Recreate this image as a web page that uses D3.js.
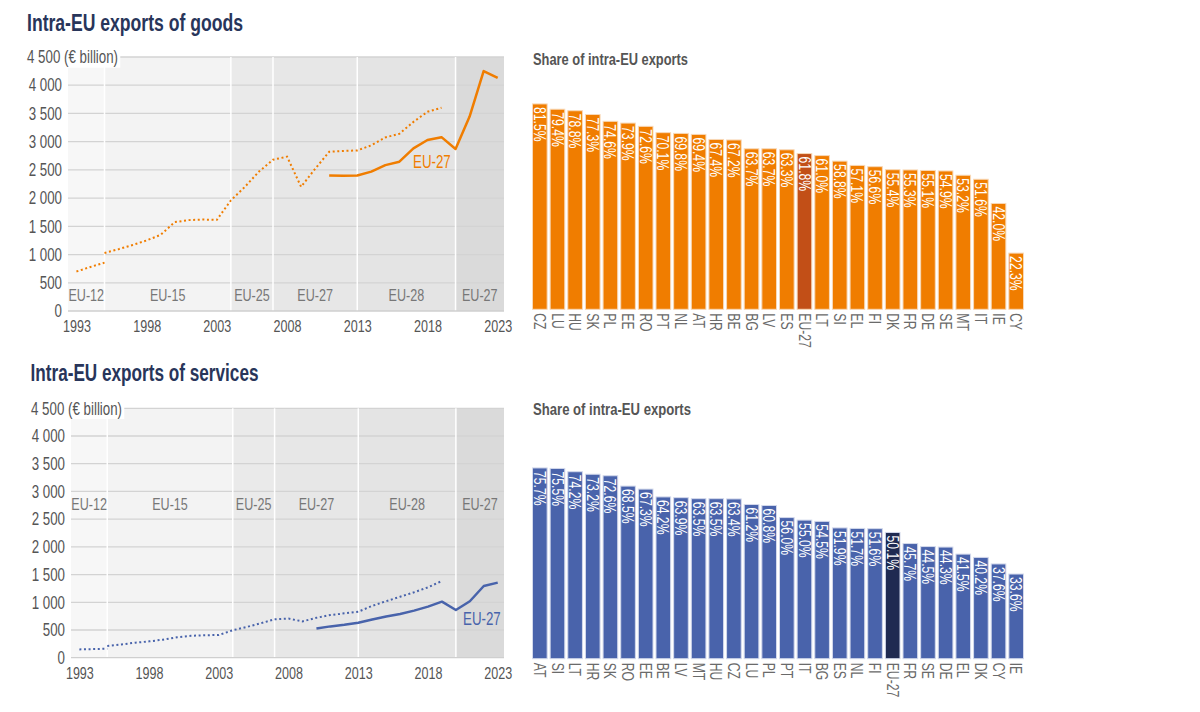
<!DOCTYPE html>
<html>
<head>
<meta charset="utf-8">
<title>Intra-EU exports</title>
<style>
  body { margin: 0; background: #fff; }
  text { font-family: "Liberation Sans", Arial, sans-serif; }
  .title { font-weight: bold; fill: #28355a; font-size: 23px; }
  .subtitle { font-weight: bold; fill: #555; font-size: 16px; }
  .tick text { fill: #555; font-size: 18px; }
  .era { fill: #777; font-size: 17px; }
</style>
</head>
<body>
<svg id="chart" width="1200" height="712"></svg>
<script src="https://cdn.jsdelivr.net/npm/d3@7/dist/d3.min.js"></script>
<script>
// membership periods (start year of each)
var eraNames = ["EU-12", "EU-15", "EU-25", "EU-27", "EU-28", "EU-27"];
var eraStarts = [1993, 1995, 2004, 2007, 2013, 2020];

var yearTicks = [1993, 1998, 2003, 2008, 2013, 2018, 2023];
var valueTicks = [0, 500, 1000, 1500, 2000, 2500, 3000, 3500, 4000, 4500];

// goods, EUR billion
var goodsEu12Years = [1993, 1994, 1995];
var goodsEu12 = [700, 780, 857];
var goodsHistYears = d3.range(1995, 2020);
var goodsHist = [1028, 1095, 1170, 1250, 1350, 1575, 1610, 1620, 1615, 1960, 2200, 2470, 2680, 2735, 2200,
                 2520, 2820, 2835, 2845, 2935, 3075, 3140, 3350, 3530, 3600];
var goodsEu27Years = d3.range(2011, 2024);
var goodsEu27 = [2400, 2395, 2400, 2470, 2585, 2645, 2880, 3030, 3080, 2870, 3445, 4250, 4130];

// services, EUR billion
var servEu12Years = [1993, 1994, 1995];
var servEu12 = [150, 155, 162];
var servHistYears = d3.range(1995, 2020);
var servHist = [211, 240, 270, 295, 325, 368, 395, 405, 410, 495, 555, 620, 693, 705, 655,
                720, 770, 800, 830, 935, 1020, 1100, 1180, 1270, 1385];
var servEu27Years = d3.range(2010, 2024);
var servEu27 = [525, 565, 595, 632, 690, 745, 790, 850, 921, 1011, 861, 1018, 1294, 1354];

// share of intra-EU exports, %
var goodsCountries = ["CZ", "LU", "HU", "SK", "PL", "EE", "RO", "PT", "NL", "AT", "HR", "BE", "BG", "LV", "ES",
                      "EU-27", "LT", "SI", "EL", "FI", "DK", "FR", "DE", "SE", "MT", "IT", "IE", "CY"];
var goodsShares = [81.5, 79.4, 78.8, 77.3, 74.6, 73.9, 72.6, 70.1, 69.8, 69.4, 67.4, 67.2, 63.7, 63.7, 63.3,
                   61.8, 61.0, 58.8, 57.1, 56.6, 55.4, 55.3, 55.1, 54.9, 53.2, 51.6, 42.0, 22.3];
var servCountries = ["AT", "SI", "LT", "HR", "SK", "RO", "EE", "BE", "LV", "MT", "HU", "CZ", "LU", "PL", "PT",
                     "IT", "BG", "ES", "NL", "FI", "EU-27", "FR", "SE", "DE", "EL", "DK", "CY", "IE"];
var servShares = [75.7, 75.5, 74.2, 73.2, 72.6, 68.5, 67.3, 64.2, 63.9, 63.5, 63.5, 63.4, 61.2, 60.8, 56.0,
                  55.0, 54.5, 51.9, 51.7, 51.6, 50.1, 45.7, 44.5, 44.3, 41.5, 40.2, 37.6, 33.6];

var bandFill = ["#f7f7f7", "#f3f3f3", "#eaeaea", "#e7e7e7", "#e4e4e4", "#dadada"];

// the original uses a narrow typeface: squeeze text horizontally
var K = 0.74;
var squeeze = "scale(" + K + ",1)";

var svg = d3.select("#chart");
var locale = d3.formatLocale({decimal: ".", thousands: " ", grouping: [3], currency: ["", ""]});
var fmt = locale.format(",");

function title(cls, x, y, len, txt) {
  svg.append("text").attr("class", cls).attr("x", x).attr("y", y)
    .attr("textLength", len).attr("lengthAdjust", "spacingAndGlyphs").text(txt);
}

function lineChart(o) {
  var x = d3.scaleLinear().domain([1992.4, 2023.45]).range([o.left, 504]);
  var y = d3.scaleLinear().domain([0, 4500]).range([o.bottom, o.top]);
  var g = svg.append("g");

  title("title", o.titleX, o.titleY, o.titleLen, o.title);

  // background bands
  var bands = eraStarts.map(function(s, i) {
    var a = i == 0 ? x.domain()[0] : s;
    var b = i == eraStarts.length - 1 ? x.domain()[1] : eraStarts[i + 1];
    return {x0: x(a), x1: x(b), name: eraNames[i], fill: bandFill[i]};
  });
  g.selectAll(".band").data(bands).enter().append("rect")
    .attr("x", function(d) { return d.x0; })
    .attr("y", o.top)
    .attr("width", function(d) { return d.x1 - d.x0; })
    .attr("height", o.bottom - o.top)
    .attr("fill", function(d) { return d.fill; });

  g.selectAll(".grid").data(valueTicks.slice(1)).enter().append("line")
    .attr("x1", o.left).attr("x2", 504)
    .attr("y1", function(d) { return y(d); }).attr("y2", function(d) { return y(d); })
    .attr("stroke", "#d3d3d3").attr("stroke-width", 1.3);

  g.selectAll(".sep").data(bands.slice(1)).enter().append("line")
    .attr("x1", function(d) { return d.x0; }).attr("x2", function(d) { return d.x0; })
    .attr("y1", o.top).attr("y2", o.bottom)
    .attr("stroke", "#fff").attr("stroke-width", 1.5);

  g.selectAll(".era").data(bands).enter().append("text")
    .attr("class", "era")
    .attr("transform", function(d) { return "translate(" + (d.x0 + d.x1) / 2 + "," + o.eraY + ") " + squeeze; })
    .attr("text-anchor", "middle")
    .text(function(d) { return d.name; });

  g.append("line").attr("x1", o.left).attr("x2", 504).attr("y1", o.bottom).attr("y2", o.bottom)
    .attr("stroke", "#cfcfcf").attr("stroke-width", 1.3);

  // axes
  var ya = g.append("g").attr("transform", "translate(" + (o.left - 6) + ",0)")
    .call(d3.axisLeft(y).tickValues(valueTicks).tickFormat(fmt).tickSize(0).tickPadding(0));
  ya.select(".domain").remove();
  ya.selectAll("text").attr("transform", squeeze);
  var topTick = ya.selectAll(".tick").filter(function(d) { return d == 4500; });
  var tt = topTick.select("text").attr("text-anchor", "start").attr("x", (o.labelX - (o.left - 6)) / K)
    .text("4 500 (€ billion)");
  var bb = tt.node().getBBox();
  topTick.insert("rect", "text").attr("transform", squeeze)
    .attr("x", bb.x - 3).attr("y", bb.y - 1)
    .attr("width", bb.width + 6).attr("height", bb.height + 2).attr("fill", "#fff");

  var xa = g.append("g").attr("transform", "translate(0," + o.bottom + ")")
    .call(d3.axisBottom(x).tickValues(yearTicks).tickFormat(d3.format("d")).tickSize(0).tickPadding(9));
  xa.select(".domain").remove();
  xa.selectAll("text").attr("transform", squeeze).style("font-size", "17px");

  var line = d3.line().x(function(d) { return x(d[0]); }).y(function(d) { return y(d[1]); });
  [[o.eu12Years, o.eu12], [o.histYears, o.hist]].forEach(function(s) {
    g.append("path").datum(d3.zip(s[0], s[1])).attr("d", line)
      .attr("fill", "none").attr("stroke", o.color).attr("stroke-width", 2)
      .attr("stroke-dasharray", "2 2.6");
  });
  g.append("path").datum(d3.zip(o.eu27Years, o.eu27)).attr("d", line)
    .attr("fill", "none").attr("stroke", o.color).attr("stroke-width", 2.5)
    .attr("stroke-linejoin", "round");

  g.append("text").attr("transform", "translate(" + o.tagX + "," + o.tagY + ") " + squeeze)
    .attr("fill", o.color).attr("font-size", 18).text("EU-27");
}

function barChart(o) {
  var x = d3.scaleBand().domain(o.countries).range([531, 1025]).paddingInner(0.17).paddingOuter(0.085);
  var y = d3.scaleLinear().domain([0, 100]).range([o.bottom, o.bottom - 252]);
  var data = d3.zip(o.countries, o.shares);
  var g = svg.append("g");

  title("subtitle", 533, o.titleY, o.titleLen, "Share of intra-EU exports");

  g.selectAll("rect").data(data).enter().append("rect")
    .attr("x", function(d) { return x(d[0]); })
    .attr("y", function(d) { return y(d[1]); })
    .attr("width", x.bandwidth())
    .attr("height", function(d) { return o.bottom - y(d[1]); })
    .attr("fill", function(d) { return d[0] == "EU-27" ? o.dark : o.color; })
    .attr("stroke", o.edge).attr("stroke-width", 1);

  g.selectAll(".val").data(data).enter().append("text")
    .attr("transform", function(d) {
      return "translate(" + (x(d[0]) + x.bandwidth() / 2) + "," + (y(d[1]) + 3) + ") rotate(90) " + squeeze;
    })
    .attr("dy", "0.36em").attr("fill", "#fff").attr("font-size", 16.5)
    .text(function(d) { return d[1].toFixed(1) + "%"; });

  var xa = g.append("g").attr("transform", "translate(0," + o.bottom + ")")
    .call(d3.axisBottom(x).tickSize(0).tickPadding(0));
  xa.select(".domain").remove();
  xa.selectAll("text").attr("text-anchor", "start").attr("transform", "translate(0,4) rotate(90) " + squeeze)
    .attr("dy", "0.36em").attr("y", 0).attr("x", 0).style("fill", "#6a6a6a").style("font-size", "16.5px");
}

lineChart({
  title: "Intra-EU exports of goods", titleX: 27, titleY: 31, titleLen: 216,
  left: 68, labelX: 27, top: 57, bottom: 311, eraY: 301,
  color: "#f07d00", eu12Years: goodsEu12Years, eu12: goodsEu12, histYears: goodsHistYears, hist: goodsHist,
  eu27Years: goodsEu27Years, eu27: goodsEu27, tagX: 413, tagY: 168
});
lineChart({
  title: "Intra-EU exports of services", titleX: 30.5, titleY: 381, titleLen: 228,
  left: 71, labelX: 31, top: 408.3, bottom: 657.7, eraY: 510,
  color: "#4863ab", eu12Years: servEu12Years, eu12: servEu12, histYears: servHistYears, hist: servHist,
  eu27Years: servEu27Years, eu27: servEu27, tagX: 463, tagY: 625
});
barChart({countries: goodsCountries, shares: goodsShares, bottom: 309.3, titleY: 65, titleLen: 155,
  color: "#f07d00", dark: "#c24f17", edge: "#f8d9b8"});
barChart({countries: servCountries, shares: servShares, bottom: 658.7, titleY: 415, titleLen: 158,
  color: "#4963ab", dark: "#1f2a51", edge: "#d3d9ec"});
</script>
</body>
</html>
